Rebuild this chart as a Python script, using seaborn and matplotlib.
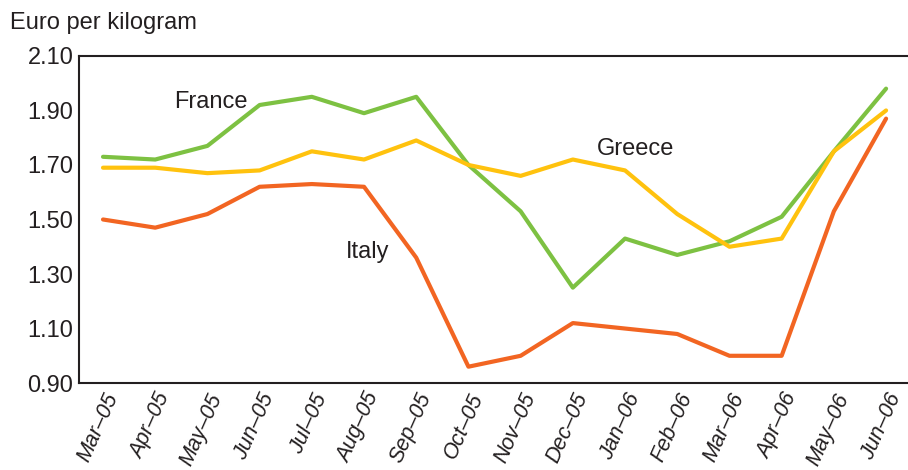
import numpy as np
import pandas as pd
import matplotlib
matplotlib.use("Agg")
import matplotlib.pyplot as plt
import seaborn as sns

months = ["Mar\u201305", "Apr\u201305", "May\u201305", "Jun\u201305", "Jul\u201305", "Aug\u201305",
          "Sep\u201305", "Oct\u201305", "Nov\u201305", "Dec\u201305", "Jan\u201306", "Feb\u201306",
          "Mar\u201306", "Apr\u201306", "May\u201306", "Jun\u201306"]
france = [1.73, 1.72, 1.77, 1.92, 1.95, 1.89, 1.95, 1.70, 1.53, 1.25, 1.43, 1.37, 1.42, 1.51, 1.75, 1.98]
greece = [1.69, 1.69, 1.67, 1.68, 1.75, 1.72, 1.79, 1.70, 1.66, 1.72, 1.68, 1.52, 1.40, 1.43, 1.75, 1.90]
italy = [1.50, 1.47, 1.52, 1.62, 1.63, 1.62, 1.36, 0.96, 1.00, 1.12, 1.10, 1.08, 1.00, 1.00, 1.53, 1.87]
yticks = [0.90, 1.10, 1.30, 1.50, 1.70, 1.90, 2.10]

colors = {"France": "#7dc142", "Greece": "#ffc20e", "Italy": "#f26522"}

# long format for seaborn
frames = []
for name, vals in [("France", france), ("Greece", greece), ("Italy", italy)]:
    frames.append(pd.DataFrame({"idx": np.arange(len(months)), "price": vals, "country": name}))
df = pd.concat(frames, ignore_index=True)

sns.set_style("white")
plt.rcParams["font.family"] = ["Liberation Sans", "DejaVu Sans"]

fig = plt.figure(figsize=(9.08, 4.70), dpi=100)
ax = fig.add_axes([0.087, 0.185, 0.913, 0.696])

sns.lineplot(data=df, x="idx", y="price", hue="country", palette=colors,
             linewidth=3, legend=False, ax=ax)

ax.set_xlim(-0.46, 15.42)
ax.set_ylim(0.90, 2.10)
ax.set_yticks(yticks)
ax.set_yticklabels([f"{v:.2f}" for v in yticks], fontsize=17, color="#231f20")
ax.set_xticks(range(len(months)))
ax.set_xticklabels(months, rotation=66, ha="right", rotation_mode="anchor",
                   fontsize=15.5, style="italic", color="#231f20")
ax.set_xlabel("")
ax.set_ylabel("")
ax.tick_params(axis="both", direction="in", length=8, width=1, color="#231f20", pad=4)
ax.tick_params(axis="x", pad=5)

for side in ["left", "bottom", "top"]:
    ax.spines[side].set_color("#231f20")
    ax.spines[side].set_linewidth(1.5)
ax.spines["right"].set_visible(False)

ax.text(2.07, 1.93, "France", fontsize=17, color="#231f20", ha="center", va="center")
ax.text(10.21, 1.76, "Greece", fontsize=17, color="#231f20", ha="center", va="center")
ax.text(5.07, 1.38, "Italy", fontsize=17, color="#231f20", ha="center", va="center")

fig.text(0.011, 0.951, "Euro per kilogram", fontsize=17, color="#231f20", ha="left", va="center")

fig.savefig("out.png", dpi=100)
